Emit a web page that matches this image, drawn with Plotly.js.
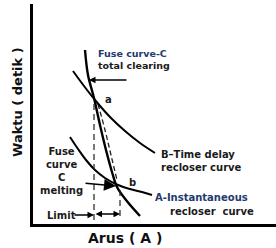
<!DOCTYPE html>
<html>
<head>
<meta charset="utf-8">
<script src="https://cdn.plot.ly/plotly-3.0.1.min.js"></script>
<style>html,body{margin:0;padding:0;background:#fff;overflow:hidden;}#chart{width:276px;height:248px;}</style>
</head>
<body>
<div id="chart"></div>
<script>
// Schematic time-current curves (arbitrary units: Arus on x, Waktu on y)
const fuseClearX = [52, 55, 61, 67, 73, 79, 84, 93, 107];
const fuseClearY = [174, 149, 126, 99, 74, 52, 37, 24, 8];
const fuseMeltX = [65, 72, 78, 84];
const fuseMeltY = [120, 94, 69, 44];
const recloserBX = [40, 51, 62, 77, 92, 107, 122];
const recloserBY = [153, 138, 124, 107, 93, 81, 71];
const recloserAX = [37, 45, 53, 62, 72, 85, 97, 109, 119];
const recloserAY = [87, 75, 64, 54, 46, 39, 35, 32, 29];
const pointA = [61, 125];
const pointB = [85, 38];
const limitLeftX = 61, limitRightX = 87;
const limitLeftY = [120, -5];
const limitRightY = [34, 8];
const limitArrowY = 10;

const dark = '#1a1a1a';
const blue = '#24396e';
const f = (s, c) => ({family: 'DejaVu Sans', size: s, color: c || dark, weight: 'bold'});

const traces = [
  {x: fuseClearX, y: fuseClearY, mode: 'lines', line: {color: '#000', width: 2.4, shape: 'spline'}, cliponaxis: false},
  {x: fuseMeltX, y: fuseMeltY, mode: 'lines', line: {color: '#222', width: 1.3, dash: '5px,3px', shape: 'spline'}},
  {x: recloserBX, y: recloserBY, mode: 'lines', line: {color: '#000', width: 2, shape: 'spline'}},
  {x: recloserAX, y: recloserAY, mode: 'lines', line: {color: '#000', width: 2, shape: 'spline'}},
  {x: [limitLeftX, limitLeftX], y: limitLeftY, mode: 'lines', line: {color: '#222', width: 1.2, dash: '6px,4px'}, cliponaxis: false},
  {x: [limitRightX, limitRightX], y: limitRightY, mode: 'lines', line: {color: '#222', width: 1.2, dash: '6px,4px'}}
];

const XMAX = 243, YMAX = 220;
const annotations = [
  {x: 63, y: 165, xref: 'x', yref: 'y', text: '<span style="color:' + blue + '">Fuse curve-C</span><br>total clearing', showarrow: false, xanchor: 'left', yanchor: 'middle', align: 'left', font: f(9.5)},
  {x: 56, y: 144, ax: 95, ay: 144, xref: 'x', yref: 'y', axref: 'x', ayref: 'y', text: '', showarrow: true, arrowhead: 2, arrowsize: 1, arrowwidth: 1.3, arrowcolor: '#000'},
  {x: pointA[0] + 9, y: pointA[1], xref: 'x', yref: 'y', text: 'a', showarrow: false, xanchor: 'left', yanchor: 'middle', font: f(10)},
  {x: pointB[0] + 9, y: pointB[1] + 4, xref: 'x', yref: 'y', text: 'b', showarrow: false, xanchor: 'left', yanchor: 'middle', font: f(10)},
  {x: 126, y: 63, xref: 'x', yref: 'y', text: 'B–Time delay<br>recloser curve', showarrow: false, xanchor: 'left', yanchor: 'middle', align: 'left', font: f(10)},
  {x: 120, y: 27, xref: 'x', yref: 'y', text: 'A-Instantaneous', showarrow: false, xanchor: 'left', yanchor: 'middle', font: f(10, blue)},
  {x: 135, y: 13, xref: 'x', yref: 'y', text: 'recloser  curve', showarrow: false, xanchor: 'left', yanchor: 'middle', font: f(10)},
  {x: 28, y: 53, xref: 'x', yref: 'y', text: 'Fuse<br>curve<br>C<br>melting', showarrow: false, xanchor: 'center', yanchor: 'middle', align: 'center', font: f(10)},
  {x: pointB[0] - 2, y: pointB[1], ax: 51, ay: 41, xref: 'x', yref: 'y', axref: 'x', ayref: 'y', text: '', showarrow: true, arrowhead: 2, arrowsize: 1.6, arrowwidth: 1.5, arrowcolor: '#000'},
  {x: 12, y: limitArrowY - 1, xref: 'x', yref: 'y', text: 'Limit', showarrow: false, xanchor: 'left', yanchor: 'middle', font: f(10)},
  {x: limitLeftX, y: limitArrowY - 1, ax: 40, ay: limitArrowY - 1, xref: 'x', yref: 'y', axref: 'x', ayref: 'y', text: '', showarrow: true, arrowhead: 2, arrowsize: 1, arrowwidth: 1.3, arrowcolor: '#000'},
  {x: limitRightX, y: limitArrowY, ax: limitLeftX, ay: limitArrowY, xref: 'x', yref: 'y', axref: 'x', ayref: 'y', text: '', showarrow: true, arrowhead: 2, startarrowhead: 2, arrowside: 'end+start', arrowsize: 1, arrowwidth: 1.3, arrowcolor: '#000'},
  {x: 92 / XMAX, y: -14 / YMAX, xref: 'paper', yref: 'paper', text: 'Arus ( A )', showarrow: false, xanchor: 'center', yanchor: 'middle', font: f(14, '#111')},
  {x: -16 / XMAX, y: 122 / YMAX, xref: 'paper', yref: 'paper', text: 'Waktu ( detik )', textangle: -90, showarrow: false, xanchor: 'center', yanchor: 'middle', font: f(13, '#111')}
];

const layout = {
  width: 276, height: 248,
  margin: {l: 33, r: 0, t: 4, b: 24, pad: 0},
  paper_bgcolor: '#fff', plot_bgcolor: '#fff',
  showlegend: false,
  xaxis: {range: [0, XMAX], showline: true, mirror: false, linewidth: 3, linecolor: '#000', showgrid: false, zeroline: false, showticklabels: false, ticks: ''},
  yaxis: {range: [0, YMAX], showline: true, mirror: false, linewidth: 3, linecolor: '#000', showgrid: false, zeroline: false, showticklabels: false, ticks: ''},
  annotations: annotations
};

Plotly.newPlot('chart', traces, layout, {staticPlot: true, displayModeBar: false});
</script>
</body>
</html>
